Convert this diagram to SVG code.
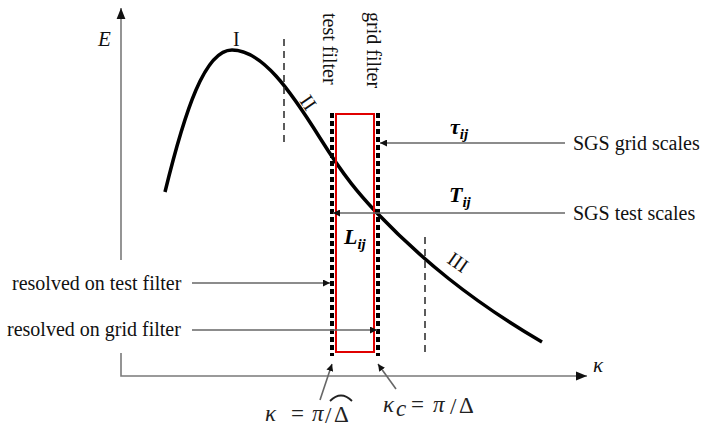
<svg xmlns="http://www.w3.org/2000/svg" width="704" height="435" viewBox="0 0 704 435">
<style>
.t{font-family:"Liberation Serif","Times New Roman",serif;font-size:20px;fill:#111}
.m{font-family:"Liberation Serif","Times New Roman",serif;font-size:21px;font-style:italic;fill:#111}
.k{font-family:"Liberation Serif","Times New Roman",serif;font-size:23px;fill:#222}
.i{font-style:italic}
.b{font-family:"Liberation Serif","Times New Roman",serif;font-size:22px;font-style:italic;font-weight:bold;fill:#000}
.ax{stroke:#7a7a7a;stroke-width:1.6;fill:none}
.con{stroke:#666;stroke-width:1.6;fill:none}
.filt{stroke:#000;stroke-width:4;stroke-dasharray:5 3;fill:none}
.dash{stroke:#333;stroke-width:1.6;stroke-dasharray:7 5;fill:none}
</style>
<defs>
<marker id="ah" viewBox="0 0 10 10" refX="10" refY="5" markerWidth="7" markerHeight="7" markerUnits="userSpaceOnUse" orient="auto"><path d="M0,0 L10,5 L0,10 Z" fill="#111"/></marker>
<marker id="ahb" viewBox="0 0 10 10" refX="10" refY="5" markerWidth="11" markerHeight="11" markerUnits="userSpaceOnUse" orient="auto"><path d="M0,1 L10,5 L0,9 Z" fill="#111"/></marker>
</defs>
<g id="axes">
<path class="ax" d="M121,260 L121,8" marker-end="url(#ahb)"/>
<path class="ax" d="M121,353 L121,376 L587,376" marker-end="url(#ahb)"/>
<text class="m" x="98" y="46">E</text>
<text class="m" x="593" y="372">κ</text>
</g>
<g id="spectrum">
<path d="M165,192 C185,110 205,50 232,50 C262,50 290,90 320,138 C345,178 360,195 376,212 C420,258 470,300 542,342" stroke="#000" stroke-width="3.5" fill="none"/>
<text class="t" x="233" y="46">I</text>
<text class="t" transform="translate(299,101) rotate(55)">II</text>
<text class="t" transform="translate(446,262) rotate(35)">III</text>
</g>
<g id="ranges">
<line class="dash" x1="284" y1="39" x2="284" y2="144"/>
<line class="dash" x1="425" y1="237" x2="425" y2="354"/>
</g>
<g id="test-filter">
<line class="filt" x1="332" y1="113" x2="332" y2="356"/>
<text class="t" transform="translate(323,13) rotate(90)">test filter</text>
</g>
<g id="grid-filter">
<line class="filt" x1="378" y1="113" x2="378" y2="356"/>
<text class="t" transform="translate(367,12) rotate(90)">grid filter</text>
</g>
<g id="band">
<rect x="336" y="114" width="38" height="238" fill="none" stroke="#e00000" stroke-width="2"/>
</g>
<g id="connectors">
<line class="con" x1="565" y1="143" x2="380" y2="143" marker-end="url(#ah)"/>
<line class="con" x1="565" y1="213" x2="333" y2="213" marker-end="url(#ah)"/>
<line class="con" x1="192" y1="283" x2="330" y2="283" marker-end="url(#ah)"/>
<line class="con" x1="192" y1="330" x2="377" y2="330" marker-end="url(#ah)"/>
<line class="con" x1="320" y1="400" x2="332" y2="364" marker-end="url(#ah)"/>
<line class="con" x1="396" y1="389" x2="378" y2="364" marker-end="url(#ah)"/>
</g>
<g id="labels">
<text class="t" x="573" y="150">SGS grid scales</text>
<text class="t" x="573" y="220">SGS test scales</text>
<text class="t" x="12" y="290">resolved on test filter</text>
<text class="t" x="7" y="336">resolved on grid filter</text>
<text class="b" x="450" y="134">τ<tspan font-size="15" dy="5">ij</tspan></text>
<text class="b" x="449" y="202">T<tspan font-size="15" dy="5">ij</tspan></text>
<text class="b" x="344" y="244">L<tspan font-size="15" dy="5">ij</tspan></text>
</g>
<g id="label-test-cut">
<text class="k i" x="265" y="421">κ</text>
<text class="k" x="291" y="421">=</text>
<text class="k i" x="312" y="421">π</text>
<text class="k" x="325" y="423" font-size="22">/</text>
<text class="k" x="334" y="422">Δ</text>
<path d="M330,401 Q341,390 352,401" stroke="#222" stroke-width="1.8" fill="none"/>
</g>
<g id="label-grid-cut">
<text class="k i" x="383" y="412">κ</text>
<text class="k i" x="396" y="416" font-size="15">c</text>
<text class="k" x="411" y="412">=</text>
<text class="k i" x="433" y="412">π</text>
<text class="k" x="450" y="414" font-size="22">/</text>
<text class="k" x="459" y="413">Δ</text>
</g>
</svg>
